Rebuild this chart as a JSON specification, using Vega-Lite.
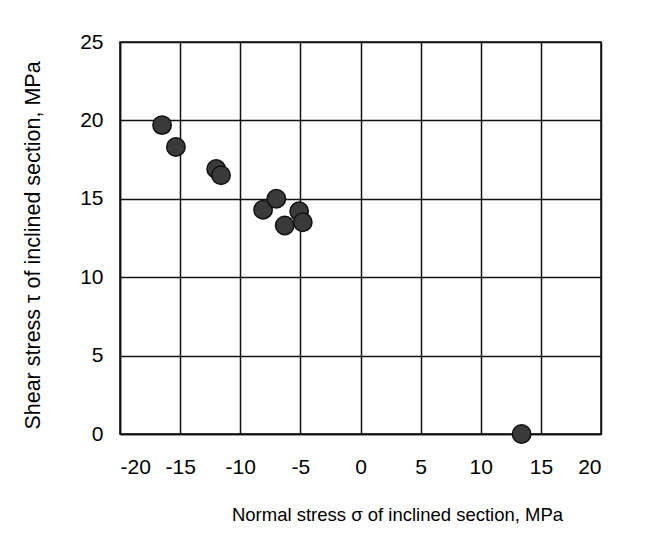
{
  "$schema": "https://vega.github.io/schema/vega-lite/v6.json",
  "width": 481,
  "height": 392,
  "autosize": "none",
  "padding": {"left": 120, "top": 42, "right": 45, "bottom": 111},
  "background": "white",
  "data": {"values": [
    {"sigma": -16.5, "tau": 19.7},
    {"sigma": -15.35, "tau": 18.3},
    {"sigma": -12.0, "tau": 16.9},
    {"sigma": -11.6, "tau": 16.5},
    {"sigma": -8.1, "tau": 14.3},
    {"sigma": -7.0, "tau": 15.0},
    {"sigma": -6.3, "tau": 13.3},
    {"sigma": -5.1, "tau": 14.2},
    {"sigma": -4.8, "tau": 13.5},
    {"sigma": 13.4, "tau": 0.0}
  ]},
  "mark": {"type": "circle", "size": 340, "color": "#3a3a3a", "stroke": "#111", "strokeWidth": 1.5, "opacity": 1},
  "encoding": {
    "x": {"field": "sigma", "type": "quantitative",
      "scale": {"domain": [-20, 20], "nice": false, "zero": false},
      "axis": {"values": [-20, -15, -10, -5, 0, 5, 10, 15, 20], "labelExpr": "'' + datum.value", "labelPadding": 22,
        "title": "Normal stress σ of inclined section, MPa", "titleFontSize": 18.5, "titleX": 277, "titleY": 80, "titleAnchor": null, "titleAlign": "center", "titleBaseline": "middle"}},
    "y": {"field": "tau", "type": "quantitative",
      "scale": {"domain": [0, 25], "nice": false},
      "axis": {"values": [0, 5, 10, 15, 20, 25], "labelPadding": 17,
        "title": "Shear stress τ of inclined section, MPa", "titleFontSize": 21.5, "titleX": -87, "titleY": 203, "titleAngle": -90, "titleAlign": "center", "titleBaseline": "middle"}}
  },
  "config": {
    "font": "Liberation Sans",
    "view": {"stroke": "#111", "strokeWidth": 1.5},
    "axis": {
      "grid": true, "gridColor": "#111", "gridWidth": 1.5, "gridOpacity": 1,
      "domainColor": "#111", "domainWidth": 1.5,
      "ticks": false,
      "labelFont": "Liberation Sans", "labelFontSize": 21, "labelColor": "#000",
      "titleFont": "Liberation Sans", "titleFontWeight": "normal", "titleColor": "#000"
    }
  }
}
